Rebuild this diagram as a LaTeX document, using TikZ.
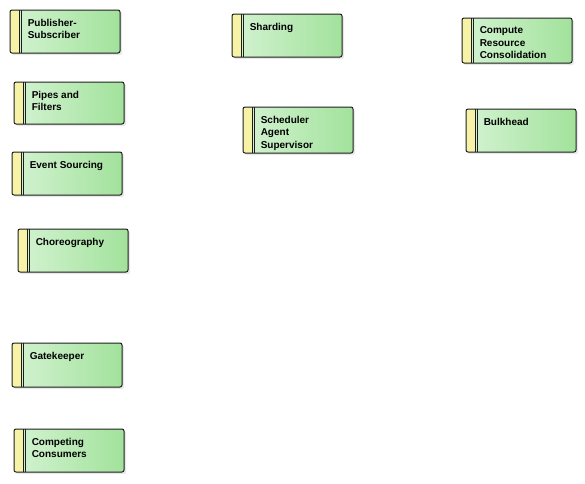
\documentclass[tikz,border=0pt]{standalone}
\usepackage{fontspec}
\setmainfont{Liberation Sans}
\usetikzlibrary{shadows}

\definecolor{stripyellow}{HTML}{F6F3A6}
\definecolor{boxgreenl}{HTML}{D4F3D2}
\definecolor{boxgreenr}{HTML}{A2E29C}
\definecolor{boxline}{HTML}{1E1E1E}

\tikzset{
    patbox/.style={rectangle, anchor=north west, minimum width=82.5pt,
        inner sep=0pt, outer sep=0pt, rounded corners=1.5pt,
        left color=boxgreenl, right color=boxgreenr,
        drop shadow={shadow xshift=1.5pt, shadow yshift=-1.5pt, opacity=0.18}},
    patline/.style={draw=boxline, line width=0.75pt},
    pattext/.style={anchor=north west, align=left, inner sep=0pt,
        font=\fontsize{7.5}{9.4}\selectfont\bfseries}
}

\begin{document}
\begin{tikzpicture}[x=0.75pt, y=-0.75pt]
    \useasboundingbox (0, 0) rectangle (585, 483);
    \foreach \px/\py/\h/\name/\txt in {
            10/10/43/pubsub/{Publisher-\\Subscriber},
            14/82/42/pipes/{Pipes and\\Filters},
            12/152/43/eventsrc/{Event Sourcing},
            18/229/43/choreo/{Choreography},
            12/343/44/gatekeeper/{Gatekeeper},
            14/429/43/competing/{Competing\\Consumers},
            232/14/43/sharding/{Sharding},
            243/107/46/scheduler/{Scheduler\\Agent\\Supervisor},
            462/18/45/compute/{Compute\\Resource\\Consolidation},
            466/109/43/bulkhead/{Bulkhead}} {
        \node[patbox, minimum height=\h*0.75pt] (\name) at (\px, \py) {};
        \fill[stripyellow, rounded corners=1.5pt] (\name.north west) rectangle ([shift={(9.5, 0)}]\name.south west);
        \draw[patline, rounded corners=1.5pt] (\name.north west) rectangle (\name.south east);
        \foreach \dx in {9.5, 11.5} {
            \draw[patline] ([shift={(\dx, 0)}]\name.north west) -- ([shift={(\dx, 0)}]\name.south west);
        }
        \node[pattext] (\name-txt) at ([shift={(17.5, 8.5)}]\name.north west) {\txt};
    }
\end{tikzpicture}
\end{document}
